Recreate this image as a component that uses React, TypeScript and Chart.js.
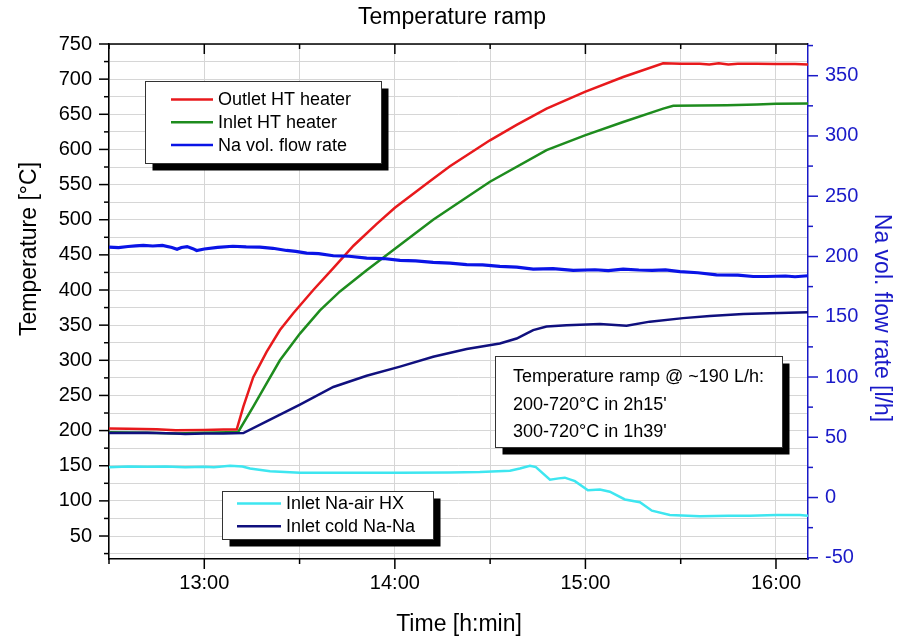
import React, { useEffect, useRef } from 'react';
import { Chart, registerables } from 'chart.js';

Chart.register(...registerables);

const FONT = "'Liberation Sans', Arial, Helvetica, sans-serif";
const AXIS_BLUE = '#1a1ac8';

// ---- chart text ----
const chartTitle = 'Temperature ramp';
const xTitle = 'Time [h:min]';
const yTitle = 'Temperature [°C]';
const y2Title = 'Na vol. flow rate [l/h]';
const legendTop = ['Outlet HT heater', 'Inlet HT heater', 'Na vol. flow rate'];
const legendBottom = ['Inlet Na-air HX', 'Inlet cold Na-Na'];
const noteLines = ['Temperature ramp @ ~190 L/h:', "200-720°C in 2h15'", "300-720°C in 1h39'"];

// ---- axes ----
const xMin = 12.5;
const xMax = 16.168;
const yMin = 17.3;
const yMax = 750;
const y2Min = -51;
const y2Max = 376.3;

// ---- data (time in decimal hours) ----
const outletTime = [12.5, 12.6, 12.75, 12.85, 13.0, 13.1, 13.17, 13.205, 13.257, 13.327, 13.397, 13.467, 13.572, 13.677, 13.783, 13.905, 14.0, 14.18, 14.289, 14.499, 14.639, 14.796, 14.997, 15.198, 15.408, 15.5, 15.6, 15.65, 15.7, 15.75, 15.8, 15.9, 16.0, 16.1, 16.168];
const outletTemp = [203, 202.5, 202, 200.5, 201, 201.5, 201.5, 234, 276, 312, 343, 367, 400, 431, 463, 494, 517, 554, 576, 613, 635, 658, 682, 703, 722.5, 722, 722, 721, 722.5, 721, 722, 722, 721.5, 721.5, 721];

const inletTime = [12.5, 12.7, 12.85, 13.0, 13.178, 13.257, 13.327, 13.397, 13.502, 13.607, 13.712, 13.852, 13.992, 14.201, 14.289, 14.499, 14.796, 14.997, 15.198, 15.408, 15.461, 15.6, 15.741, 15.9, 16.0, 16.168];
const inletTemp = [197.5, 197, 196, 197, 198, 234, 267, 300, 338, 371, 398, 428, 457, 500, 516, 554, 599, 620, 639, 658, 662, 662.5, 663, 664, 665, 665.5];

const coldTime = [12.5, 12.7, 12.85, 12.9, 13.0, 13.1, 13.205, 13.327, 13.502, 13.677, 13.852, 14.027, 14.201, 14.377, 14.551, 14.639, 14.69, 14.726, 14.796, 14.901, 15.076, 15.216, 15.338, 15.513, 15.653, 15.828, 15.968, 16.168];
const coldTemp = [196.5, 197, 196, 195, 196, 196, 196.5, 213, 237, 262, 278, 291, 305, 316, 324, 331, 338, 343, 348, 350, 351.5, 349, 355, 360, 363, 366, 367, 368.5];

const airTime = [12.5, 12.6, 12.7, 12.8, 12.9, 13.0, 13.05, 13.135, 13.2, 13.24, 13.345, 13.502, 13.764, 14.027, 14.289, 14.446, 14.604, 14.656, 14.709, 14.74, 14.814, 14.86, 14.892, 14.945, 15.013, 15.076, 15.128, 15.207, 15.286, 15.349, 15.443, 15.601, 15.75, 15.863, 16.0, 16.125, 16.168];
const airTemp = [148, 149, 148.5, 149, 148, 148.5, 148, 150, 149, 146, 142, 140, 140, 140, 140.5, 141, 143, 146, 150, 148, 130, 132, 133, 128, 115, 116, 113, 102, 98, 86, 80, 78, 79, 79, 80, 80, 79];

const flowTime = [12.5, 12.55, 12.6, 12.64, 12.68, 12.73, 12.78, 12.83, 12.857, 12.88, 12.91, 12.94, 12.96, 13.0, 13.07, 13.15, 13.22, 13.292, 13.36, 13.432, 13.48, 13.537, 13.6, 13.677, 13.76, 13.852, 13.94, 14.027, 14.11, 14.201, 14.29, 14.377, 14.46, 14.551, 14.64, 14.726, 14.83, 14.936, 15.05, 15.12, 15.198, 15.28, 15.35, 15.42, 15.496, 15.59, 15.688, 15.8, 15.88, 15.95, 16.05, 16.1, 16.168];
const flowRate = [207.8, 207.3, 208.3, 208.8, 209.2, 208.7, 209.2, 207.5, 206, 207.5, 208.2, 206.5, 205, 206.2, 207.5, 208.5, 208, 207.8, 206.8, 205, 204.3, 202.8, 202.3, 200.6, 200.2, 198.6, 198.3, 196.7, 196.3, 195.1, 194.5, 193.2, 193, 191.8, 191.2, 189.5, 190, 188.4, 189, 188.2, 189.5, 188.8, 188.5, 188.9, 187.5, 186.5, 184.8, 184.5, 183.4, 183.4, 183.8, 183.2, 184];

const RED = '#e8191c';
const GREEN = '#1e8c1e';
const BLUE = '#0a14e6';
const CYAN = '#3ee6f0';
const NAVY = '#10107e';

function pts(t: number[], v: number[]) {
  return t.map((x, i) => ({ x, y: v[i] }));
}

function shadowBox(ctx: CanvasRenderingContext2D, x: number, y: number, w: number, h: number) {
  ctx.fillStyle = '#000';
  ctx.fillRect(x + 7.5, y + 7.5, w, h);
  ctx.fillStyle = '#fff';
  ctx.fillRect(x, y, w, h);
  ctx.strokeStyle = '#333';
  ctx.lineWidth = 1;
  ctx.strokeRect(x + 0.5, y + 0.5, w, h);
}

const framePlugin = {
  id: 'frame',
  afterDraw(chart: any) {
    const ctx: CanvasRenderingContext2D = chart.ctx;
    const { left, right, top, bottom } = chart.chartArea;
    const xs = chart.scales.x;
    const ys = chart.scales.y;
    const y2s = chart.scales.y2;
    ctx.save();
    const seg = (x1: number, y1: number, x2: number, y2: number) => {
      ctx.beginPath();
      ctx.moveTo(x1, y1);
      ctx.lineTo(x2, y2);
      ctx.stroke();
    };
    // top border
    ctx.strokeStyle = '#000';
    ctx.lineWidth = 1.5;
    seg(left, top, right, top);
    // x ticks (bottom outward, top inward)
    xs.ticks.forEach((t: any) => {
      const px = xs.getPixelForValue(t.value);
      const major = Math.abs(t.value - Math.round(t.value)) < 1e-6;
      const len = major ? 10 : 5;
      seg(px, bottom, px, bottom + len);
      seg(px, top, px, top + len);
    });
    // left ticks
    ys.ticks.forEach((t: any) => {
      const py = ys.getPixelForValue(t.value);
      const len = t.value % 50 === 0 ? 10 : 5;
      seg(left - len, py, left, py);
    });
    // right ticks
    ctx.strokeStyle = AXIS_BLUE;
    y2s.ticks.forEach((t: any) => {
      const py = y2s.getPixelForValue(t.value);
      const len = t.value % 50 === 0 ? 10 : 5;
      seg(right, py, right + len, py);
    });

    // titles
    ctx.fillStyle = '#000';
    ctx.textAlign = 'center';
    ctx.textBaseline = 'middle';
    ctx.font = `23px ${FONT}`;
    ctx.fillText(chartTitle, 452, 18);
    ctx.fillText(xTitle, 459, 625);
    ctx.save();
    ctx.translate(30, 249);
    ctx.rotate(-Math.PI / 2);
    ctx.fillText(yTitle, 0, 0);
    ctx.restore();
    ctx.save();
    ctx.fillStyle = AXIS_BLUE;
    ctx.translate(881, 318);
    ctx.rotate(Math.PI / 2);
    ctx.fillText(y2Title, 0, 0);
    ctx.restore();

    // legend 1
    ctx.textAlign = 'left';
    ctx.font = `18px ${FONT}`;
    shadowBox(ctx, 145, 81, 236, 82);
    const c1 = [RED, GREEN, BLUE];
    legendTop.forEach((label, i) => {
      const yy = 99.5 + i * 22.7;
      ctx.strokeStyle = c1[i];
      ctx.lineWidth = 2.5;
      seg(171, yy, 213, yy);
      ctx.fillStyle = '#000';
      ctx.fillText(label, 218, yy + 1);
    });

    // legend 2
    shadowBox(ctx, 222, 491, 211, 48);
    const c2 = [CYAN, NAVY];
    legendBottom.forEach((label, i) => {
      const yy = 503.5 + i * 22.7;
      ctx.strokeStyle = c2[i];
      ctx.lineWidth = 2.5;
      seg(237, yy, 281, yy);
      ctx.fillStyle = '#000';
      ctx.fillText(label, 286, yy + 1);
    });

    // note box
    shadowBox(ctx, 495, 356, 287, 91);
    ctx.fillStyle = '#000';
    const ny = [377, 405, 432];
    noteLines.forEach((s, i) => ctx.fillText(s, 513, ny[i]));
    ctx.restore();
  },
};

export default function App() {
  const ref = useRef<HTMLCanvasElement | null>(null);
  useEffect(() => {
    if (!ref.current) return;
    Chart.defaults.font.family = FONT;
    const chart = new Chart(ref.current, {
      type: 'line',
      data: {
        datasets: [
          { label: legendBottom[0], data: pts(airTime, airTemp), borderColor: CYAN, borderWidth: 2.5, pointRadius: 0, yAxisID: 'y' },
          { label: legendBottom[1], data: pts(coldTime, coldTemp), borderColor: NAVY, borderWidth: 2.5, pointRadius: 0, yAxisID: 'y' },
          { label: legendTop[2], data: pts(flowTime, flowRate), borderColor: BLUE, borderWidth: 3.2, pointRadius: 0, yAxisID: 'y2' },
          { label: legendTop[1], data: pts(inletTime, inletTemp), borderColor: GREEN, borderWidth: 2.5, pointRadius: 0, yAxisID: 'y' },
          { label: legendTop[0], data: pts(outletTime, outletTemp), borderColor: RED, borderWidth: 2.5, pointRadius: 0, yAxisID: 'y' },
        ],
      },
      options: {
        responsive: false,
        animation: false,
        devicePixelRatio: 1,
        parsing: true,
        layout: { padding: { top: 44, left: 0, right: 0, bottom: 0 } },
        plugins: { legend: { display: false }, title: { display: false }, tooltip: { enabled: false } },
        elements: { line: { tension: 0 } },
        scales: {
          x: {
            type: 'linear',
            min: xMin,
            max: xMax,
            afterFit: (s: any) => { s.height = 83; },
            ticks: {
              stepSize: 0.5,
              includeBounds: false,
              autoSkip: false,
              maxRotation: 0,
              padding: 2,
              color: '#000',
              font: { size: 20, family: FONT },
              callback: (v: any) => (Math.abs(v - Math.round(v)) < 1e-6 ? `${Math.round(v)}:00` : ''),
            },
            grid: { color: '#d6d6d6', lineWidth: 1, drawTicks: true, tickLength: 10, tickColor: 'rgba(0,0,0,0)' },
            border: { display: true, color: '#000', width: 1.5 },
          },
          y: {
            type: 'linear',
            position: 'left',
            min: yMin,
            max: yMax,
            afterFit: (s: any) => { s.width = 109; },
            ticks: {
              stepSize: 25,
              includeBounds: false,
              autoSkip: false,
              padding: 7,
              color: '#000',
              font: { size: 20, family: FONT },
              callback: (v: any) => (v % 50 === 0 && v >= 50 ? String(v) : ''),
            },
            grid: { color: '#d6d6d6', lineWidth: 1, drawTicks: true, tickLength: 10, tickColor: 'rgba(0,0,0,0)' },
            border: { display: true, color: '#000', width: 1.5 },
          },
          y2: {
            type: 'linear',
            position: 'right',
            min: y2Min,
            max: y2Max,
            afterFit: (s: any) => { s.width = 91; },
            ticks: {
              stepSize: 25,
              includeBounds: false,
              autoSkip: false,
              padding: 7,
              color: AXIS_BLUE,
              font: { size: 20, family: FONT },
              callback: (v: any) => (v % 50 === 0 ? String(v) : ''),
            },
            grid: { display: true, drawOnChartArea: false, drawTicks: true, tickLength: 10, tickColor: 'rgba(0,0,0,0)' },
            border: { display: true, color: AXIS_BLUE, width: 1.5 },
          },
        },
      },
      plugins: [framePlugin],
    } as any);
    return () => chart.destroy();
  }, []);
  return (
    <div style={{ position: 'absolute', left: 0, top: 0, width: 899, height: 642, background: '#fff' }}>
      <canvas ref={ref} width={899} height={642} style={{ display: 'block', width: 899, height: 642 }} />
    </div>
  );
}
